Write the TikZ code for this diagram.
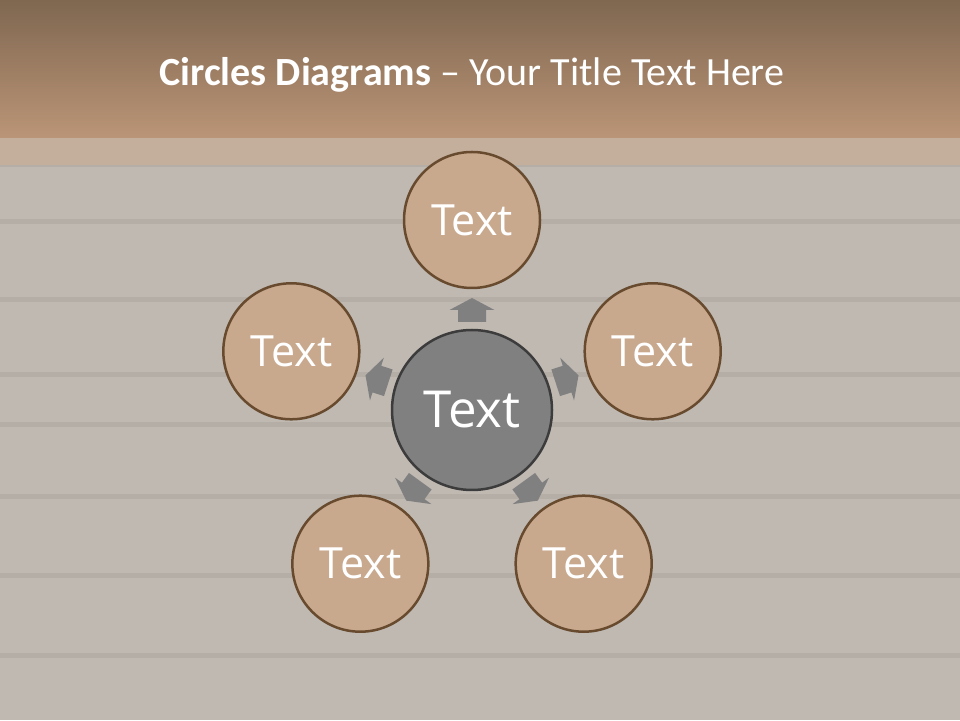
\documentclass[tikz,border=0pt]{standalone}
\usepackage{fontspec}
\setmainfont{Carlito}
\newfontfamily\circlefont{Open Sans}
\usetikzlibrary{calc}
\definecolor{bandtop}{RGB}{127,103,80}
\definecolor{bandbot}{RGB}{187,149,119}
\definecolor{wood}{RGB}{192,185,178}
\definecolor{plank}{RGB}{172,164,156}
\definecolor{strip}{RGB}{196,174,156}
\definecolor{tan}{RGB}{201,169,142}
\definecolor{rim}{RGB}{104,75,47}
\definecolor{hubgray}{RGB}{128,128,128}
\definecolor{hubrim}{RGB}{60,60,60}

\tikzset{
  leaf/.style={circle, fill=tan, draw=rim, line width=2.5pt, minimum size=136pt,
    inner sep=0pt, text=white, font=\circlefont\fontsize{43}{50}\selectfont},
  hubnode/.style={circle, fill=hubgray, draw=hubrim, line width=2.5pt, minimum size=160pt,
    inner sep=0pt, text=white, font=\circlefont\fontsize{51}{58}\selectfont},
  arrowfill/.style={fill=hubgray}
}

\begin{document}
\begin{tikzpicture}[x=1pt,y=1pt]
    % background
    \fill[wood] (0,0) rectangle (960,720);
    \foreach \y in {555,498,420,345,295,223,145,65}
      \fill[plank, opacity=0.5] (0,\y-2.5) rectangle (960,\y+2.5);
    \fill[strip] (0,555) rectangle (960,582);
    \shade[top color=bandtop, bottom color=bandbot] (0,582) rectangle (960,720);
    \node[anchor=base, text=white, font=\fontsize{40}{46}\selectfont] (title) at (472,634)
      {\textbf{Circles Diagrams} -- Your Title Text Here};

    % circles
    \node[hubnode] (hub) at (472,310) {Text};
    \foreach \i/\a in {1/90,2/18,3/306,4/234,5/162}
      \node[leaf] (t\i) at ($(hub)+(\a:190)$) {Text};

    % arrows
    \foreach \a in {90,18,306,234,162}
      \fill[arrowfill, shift={(hub)}, rotate=\a]
        (88,-14) -- (100,-14) -- (100,-22.5) -- (112,0) -- (100,22.5) -- (100,14) -- (88,14) -- cycle;
\end{tikzpicture}
\end{document}
